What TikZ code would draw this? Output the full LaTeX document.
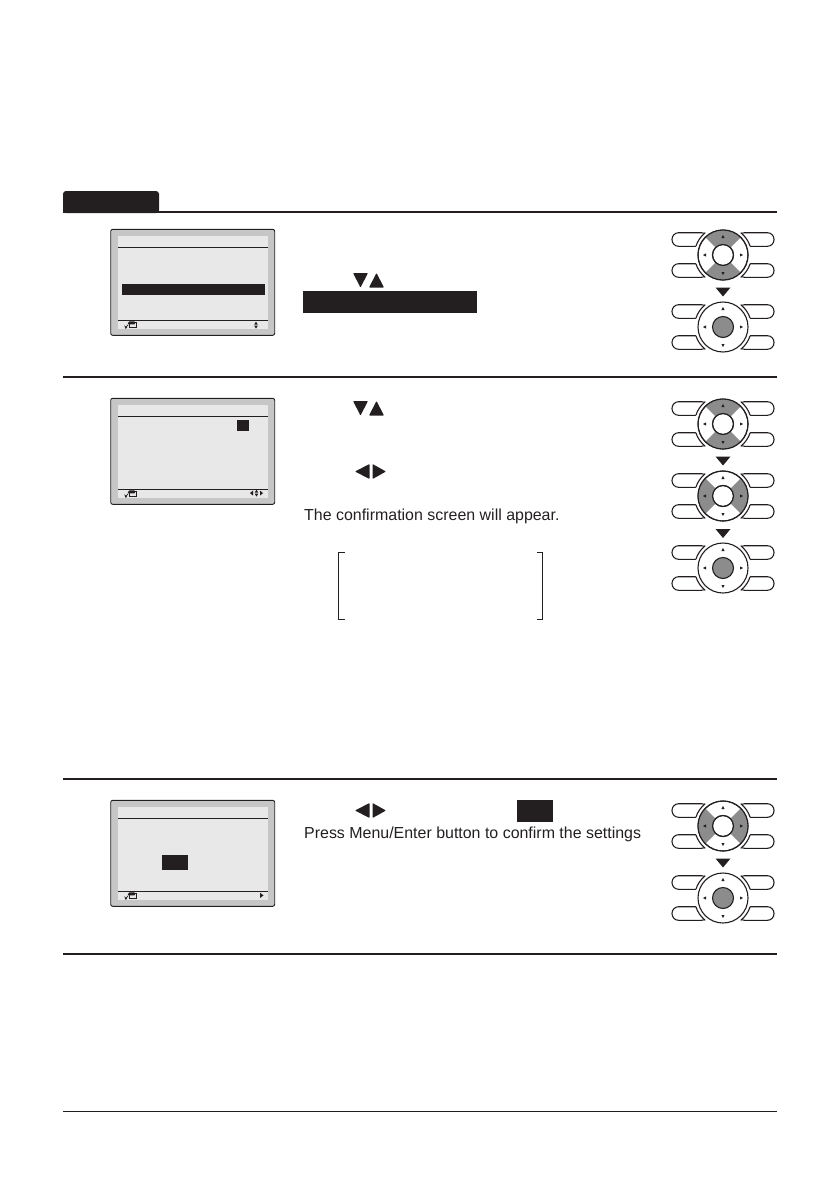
\documentclass[tikz,border=0pt]{standalone}
\usepackage{fontspec}
\setmainfont{Liberation Sans}
\definecolor{inkblack}{HTML}{231F20}
\definecolor{framegrey}{HTML}{C6C6C6}
\definecolor{lcdgrey}{HTML}{E8E8E8}
\definecolor{keygrey}{HTML}{8C8C8C}

% one remote control screen, #2 = top edge of its frame
\newcommand{\lcdpanel}[2]{
	\node[lcdframe]	(#1)	at (192.7,#2+53) {};
	\node[lcdglass]	(#1glass)	at (193,#2+53.3) {};
	\draw[inkblack, line width=0.7pt] (118,#2+18) -- (268,#2+18);
	\draw[inkblack, line width=0.7pt] (118,#2+91) -- (268,#2+91);
	% back icon
	\draw[inkblack, line width=0.8pt, fill=lcdgrey] (129,#2+93) rectangle (136,#2+98);
	\fill[inkblack, rounded corners=0.8pt] (127.5,#2+95) -- (129,#2+92) -- (135,#2+92) -- (135,#2+95) -- cycle;
	\draw[inkblack, line width=0.7pt] (128,#2+95.5) -- (126,#2+98);
	\fill[inkblack] (124.3,#2+96) -- (127,#2+98.2) -- (125.6,#2+99.6) -- cycle;
}
% key pad, #2 and #3 = centre, #4 = fill of centre key
\newcommand{\keypad}[4]{
	\begin{scope}[shift={(#2,#3)}]
		\draw[pill] (-51,-22.3) rectangle (-15,-8.7);
		\draw[pill] (-51,8.7) rectangle (-15,22.3);
		\draw[pill] (51,-22.3) rectangle (15,-8.7);
		\draw[pill] (51,8.7) rectangle (15,22.3);
		\node[gapring]	(#1gap)	at (0,0) {};
		\draw[inkblack, line width=1.1pt] (231.5:28.5) arc (231.5:197.8:28.5);
		\draw[inkblack, line width=1.1pt] (162.2:28.5) arc (162.2:128.5:28.5);
		\draw[inkblack, line width=1.1pt] (-51.5:28.5) arc (-51.5:-17.8:28.5);
		\draw[inkblack, line width=1.1pt] (17.8:28.5) arc (17.8:51.5:28.5);
		\node[padring]	(#1)	at (0,0) {};
	\end{scope}
	\node[padkey, fill=#4]	(#1key)	at (#2,#3) {};
}
% two grey wedges of a key pad, #1 = start angle of the first
\newcommand{\padwedges}[3]{
	\begin{scope}[shift={(#2,#3)}]
		\fill[keygrey] (#1:10.5) -- (#1:25) arc (#1:#1+90:25) -- (#1+90:10.5) arc (#1+90:#1:10.5) -- cycle;
		\fill[keygrey] (#1+180:10.5) -- (#1+180:25) arc (#1+180:#1+270:25) -- (#1+270:10.5) arc (#1+270:#1+180:10.5) -- cycle;
		\draw[inkblack, line width=1.1pt] (0,0) circle (10.5);
		\draw[inkblack, line width=1.1pt] (0,0) circle (25);
	\end{scope}
}
\newcommand{\padticks}[2]{
	\begin{scope}[shift={(#1,#2)}]
		\fill[inkblack] (-1.6,-17) -- (1.6,-17) -- (0,-20) -- cycle;
		\fill[inkblack] (-1.6,17) -- (1.6,17) -- (0,20) -- cycle;
		\fill[inkblack] (-17,-1.6) -- (-17,1.6) -- (-20,0) -- cycle;
		\fill[inkblack] (17,-1.6) -- (17,1.6) -- (20,0) -- cycle;
	\end{scope}
}
\newcommand{\downmark}[2]{
	\fill[inkblack] (#1-7.5,#2-4.5) -- (#1+7.5,#2-4.5) -- (#1,#2+4.5) -- cycle;
}
\newcommand{\updownmarks}[2]{
	\fill[inkblack, rounded corners=0.7pt] (#1,#2) -- (#1+15,#2) -- (#1+7.5,#2+14.5) -- cycle;
	\fill[inkblack, rounded corners=0.7pt] (#1+16,#2+14.5) -- (#1+31,#2+14.5) -- (#1+23.5,#2) -- cycle;
}
\newcommand{\leftrightmarks}[2]{
	\fill[inkblack, rounded corners=0.7pt] (#1+14.5,#2) -- (#1+14.5,#2+15) -- (#1,#2+7.5) -- cycle;
	\fill[inkblack, rounded corners=0.7pt] (#1+17.5,#2) -- (#1+17.5,#2+15) -- (#1+31,#2+7.5) -- cycle;
}

\begin{document}
\begin{tikzpicture}[x=1pt,y=-1pt,
	lcdframe/.style={rectangle, draw=inkblack, fill=framegrey, line width=0.9pt, rounded corners=2pt, minimum width=164pt, minimum height=106pt},
	lcdglass/.style={rectangle, fill=lcdgrey, minimum width=150pt, minimum height=93pt},
	darkbox/.style={rectangle, fill=inkblack, inner sep=0pt},
	pill/.style={draw=inkblack, fill=white, line width=1.1pt, rounded corners=6.6pt},
	gapring/.style={circle, fill=white, inner sep=0pt, minimum size=57pt},
	padring/.style={circle, draw=inkblack, fill=white, line width=1.1pt, inner sep=0pt, minimum size=50pt},
	padkey/.style={circle, draw=inkblack, line width=1.1pt, inner sep=0pt, minimum size=21pt},
	rulerline/.style={inkblack, line width=1.2pt},
	bodytext/.style={anchor=base west, inner sep=0pt, text=inkblack, font=\fontsize{15.95}{18}\selectfont}]
	\useasboundingbox (0,0) rectangle (840,1191);

	%Heading tab and rules
	\fill[inkblack, rounded corners=3pt] (63,213) -- (63,191) -- (159,191) -- (159,213) -- cycle;
	\fill[inkblack] (63,208) rectangle (159,212.6);
	\draw[rulerline] (63,212) -- (777,212);
	\draw[rulerline] (63,377) -- (777,377);
	\draw[rulerline] (63,779) -- (777,779);
	\draw[rulerline] (63,954) -- (777,954);
	\draw[inkblack, line width=0.7pt] (63,1111) -- (777,1111);

	%Screens
	\lcdpanel{screenone}{229.3}
	\node[darkbox, minimum width=143pt, minimum height=11pt]	(barone)	at (193.5,289.5) {};
	\fill[inkblack] (254.2,324.6) -- (257.8,324.6) -- (256,321.6) -- cycle;
	\fill[inkblack] (254.2,325.6) -- (257.8,325.6) -- (256,328.6) -- cycle;

	\lcdpanel{screentwo}{398.3}
	\node[darkbox, minimum width=12pt, minimum height=11pt]	(boxtwo)	at (243,425.5) {};
	\fill[inkblack] (254.7,492.6) -- (258.3,492.6) -- (256.5,489.6) -- cycle;
	\fill[inkblack] (254.7,493.6) -- (258.3,493.6) -- (256.5,496.6) -- cycle;
	\fill[inkblack] (253,490.6) -- (253,495.6) -- (250,493.1) -- cycle;
	\fill[inkblack] (260,490.6) -- (260,495.6) -- (263,493.1) -- cycle;

	\lcdpanel{screenthree}{800.3}
	\node[darkbox, minimum width=26pt, minimum height=15pt]	(boxthree)	at (175,862.5) {};
	\fill[inkblack] (260,892.8) -- (260,898) -- (263.5,895.4) -- cycle;

	%Text column
	\updownmarks{353}{273}
	\node[darkbox, minimum width=174pt, minimum height=22pt]	(barmenu)	at (390,302) {};
	\updownmarks{353}{401}
	\leftrightmarks{355}{464}
	\node[bodytext]	(appear)	at (304,520) {The confirmation screen will appear.};
	\leftrightmarks{355}{803}
	\node[darkbox, minimum width=36pt, minimum height=22pt]	(boxyes)	at (535,811) {};
	\node[bodytext]	(confirm)	at (304,838.5) {Press Menu/Enter button to confirm the settings};

	%Brackets
	\draw[inkblack, line width=0.8pt] (344.5,552.7) -- (338.7,552.7) -- (338.7,619.3) -- (344.5,619.3);
	\draw[inkblack, line width=0.8pt] (537,552.7) -- (542.7,552.7) -- (542.7,619.3) -- (537,619.3);

	%Key pads
	\keypad{padone}{723}{255}{white}
	\padwedges{45}{723}{255}
	\padticks{723}{255}
	\downmark{723}{292}
	\keypad{padtwo}{723}{327}{keygrey}
	\padticks{723}{327}

	\keypad{padthree}{723}{424}{white}
	\padwedges{45}{723}{424}
	\padticks{723}{424}
	\downmark{723}{461}
	\keypad{padfour}{723}{496}{white}
	\padwedges{-45}{723}{496}
	\padticks{723}{496}
	\downmark{723}{533.5}
	\keypad{padfive}{723}{568}{keygrey}
	\padticks{723}{568}

	\keypad{padsix}{723}{826}{white}
	\padwedges{-45}{723}{826}
	\padticks{723}{826}
	\downmark{723}{863}
	\keypad{padseven}{723}{898}{keygrey}
	\padticks{723}{898}
\end{tikzpicture}
\end{document}
